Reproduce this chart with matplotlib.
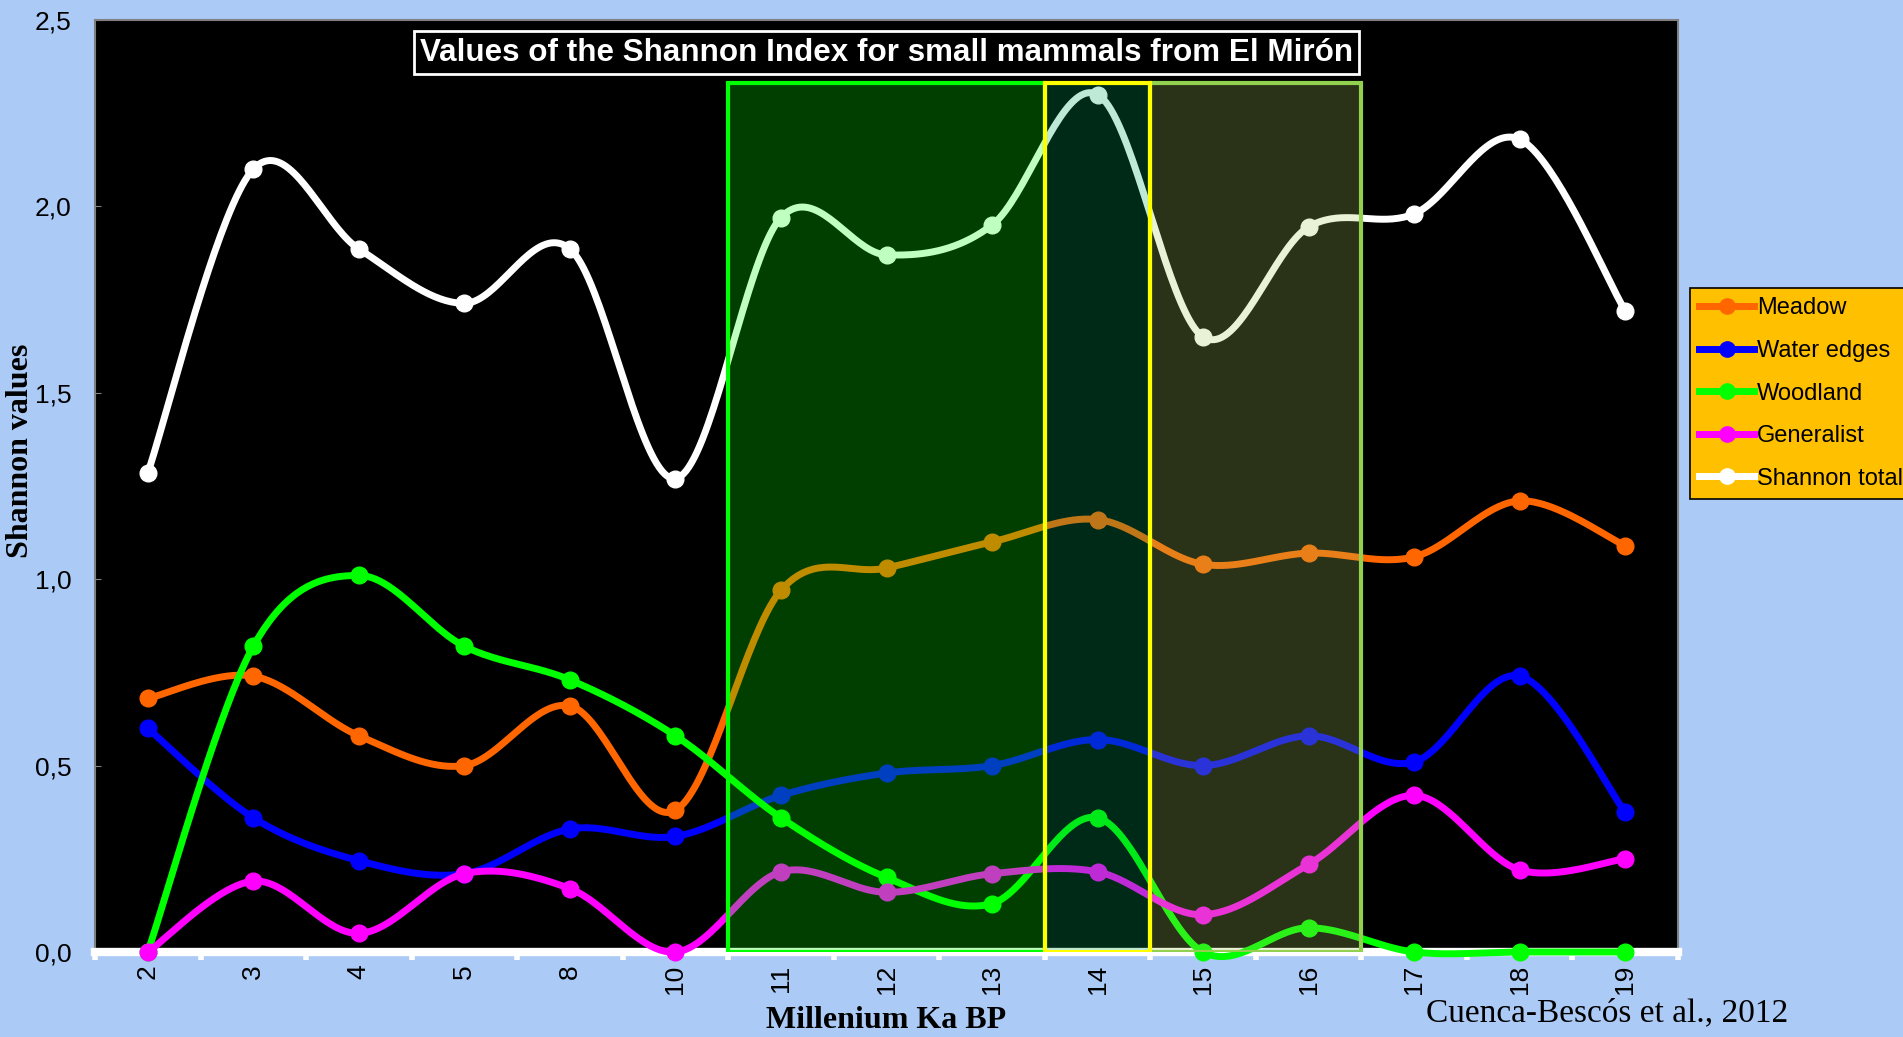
'''
Índice de Shannon para micromamíferos de El Mirón (Cuenca-Bescós et al., 2012).
Curvas suavizadas al estilo de Excel (Bezier tipo Catmull-Rom).
'''

import numpy as np
from matplotlib import pyplot as plt
from matplotlib.colors import to_rgba
from matplotlib.lines import Line2D
from matplotlib.patches import Rectangle

milenios = ['2', '3', '4', '5', '8', '10', '11', '12', '13', '14', '15', '16', '17', '18', '19']

meadow = [0.68, 0.74, 0.58, 0.50, 0.66, 0.38, 0.97, 1.03, 1.10, 1.16, 1.04, 1.07, 1.06, 1.21, 1.09]
water_edges = [0.60, 0.36, 0.245, 0.21, 0.33, 0.31, 0.42, 0.48, 0.50, 0.57, 0.50, 0.58, 0.51, 0.74, 0.375]
woodland = [0.0, 0.82, 1.01, 0.82, 0.73, 0.58, 0.36, 0.20, 0.13, 0.36, 0.0, 0.065, 0.0, 0.0, 0.0]
generalist = [0.0, 0.19, 0.05, 0.21, 0.17, 0.0, 0.215, 0.16, 0.21, 0.215, 0.10, 0.235, 0.42, 0.22, 0.25]
shannon_total = [1.285, 2.10, 1.886, 1.74, 1.886, 1.27, 1.97, 1.87, 1.95, 2.30, 1.65, 1.945, 1.98, 2.18, 1.72]

series = ['Meadow', 'Water edges', 'Woodland', 'Generalist', 'Shannon total']
colores = ['#ff6600', '#0000ff', '#00ff00', '#ff00ff', '#ffffff']

# zonas resaltadas: (primer milenio, último milenio, relleno, borde)
zonas = [('11', '13', '#00ff00', '#00ff00'),
         ('15', '16', '#a8cc60', '#92d050'),
         ('14', '14', '#00a860', '#ffff00')]
techo_zonas = 2.33

fondo = '#abcaf6'

def suavizar(x, y, n=40):
  '''
  Devuelve la curva suavizada que pasa por los puntos (x, y).
  '''
  pts = np.column_stack([x, y]).astype(float)
  P = np.vstack([pts[0], pts, pts[-1]])
  t = np.linspace(0, 1, n)[:, None]
  tramos = []
  for i in range(len(pts) - 1):
    p0, p1, p2, p3 = P[i], P[i+1], P[i+2], P[i+3]
    c1 = p1 + (p2 - p0) / 6
    c2 = p2 - (p3 - p1) / 6
    seg = (1-t)**3*p1 + 3*(1-t)**2*t*c1 + 3*(1-t)*t**2*c2 + t**3*p2
    tramos.append(seg if i == 0 else seg[1:])
  return np.vstack(tramos)

fig = plt.figure(figsize=(19.03, 10.37), dpi=100, facecolor=fondo)
ax = fig.add_axes([95/1903, 1 - 952/1037, 1583/1903, 932/1037])
ax.set_facecolor('black')

x = np.arange(len(milenios))
datos = [meadow, water_edges, woodland, generalist, shannon_total]
for k, (valores, color) in enumerate(zip(datos, colores)):
  curva = suavizar(x, valores)
  ax.plot(curva[:, 0], curva[:, 1], color=color, lw=5, solid_capstyle='round',
          zorder=3 + k, clip_on=False)
  ax.plot(x, valores, 'o', color=color, ms=12, zorder=3 + k, clip_on=False)

for ini, fin, relleno, borde in zonas:
  a = milenios.index(ini) - 0.5
  b = milenios.index(fin) + 0.5
  ax.add_patch(Rectangle((a, 0), b - a, techo_zonas, facecolor=to_rgba(relleno, 0.25),
                         edgecolor='none', zorder=10))
  ax.add_patch(Rectangle((a, 0), b - a, techo_zonas, facecolor='none',
                         edgecolor=borde, lw=3, zorder=12))

ax.set_xlim(-0.5, len(milenios) - 0.5)
ax.set_ylim(0, 2.5)

ax.set_xticks(x)
ax.set_xticklabels(milenios, rotation=90, fontsize=19, family='Liberation Sans')
ax.set_xticks(np.arange(len(milenios) + 1) - 0.5, minor=True)
ax.tick_params(axis='x', which='major', length=0, pad=9)
ax.tick_params(axis='x', which='minor', length=6, width=4, color='white', direction='out')

ax.set_yticks(np.arange(0, 2.51, 0.5))
ax.set_yticklabels([f'{v:.1f}'.replace('.', ',') for v in np.arange(0, 2.51, 0.5)],
                   fontsize=19, family='Liberation Sans')
ax.tick_params(axis='y', length=4, color='#808080', direction='in', pad=17)

for lado in ['left', 'top', 'right']:
  ax.spines[lado].set_color('#808080')
  ax.spines[lado].set_linewidth(1.5)
ax.spines['bottom'].set_color('white')
ax.spines['bottom'].set_linewidth(6)
ax.spines['bottom'].set_zorder(2.5)

ax.text(0.5, 0.965, 'Values of the Shannon Index for small mammals from El Mirón',
        transform=ax.transAxes, ha='center', va='center', color='white',
        fontsize=22.6, fontweight='bold', family='Liberation Sans', zorder=20,
        bbox=dict(boxstyle='square,pad=0.2', facecolor='black', edgecolor='white', lw=2))

fig.text(21/1903, 1 - 451/1037, 'Shannon values', rotation=90, ha='center', va='center',
         fontsize=23, fontweight='bold', family='Liberation Serif')
fig.text(886/1903, 1 - 1020/1037, 'Millenium Ka BP', ha='center', va='center',
         fontsize=23, fontweight='bold', family='Liberation Serif')
fig.text(1426/1903, 1 - 1013/1037, 'Cuenca-Bescós et al., 2012', ha='left', va='center',
         fontsize=24, family='Liberation Serif')

manijas = [Line2D([], [], color=c, lw=5, marker='o', ms=11) for c in colores]
leg = fig.legend(manijas, series, loc='upper left', bbox_to_anchor=(1690/1903, 1 - 288/1037),
                 bbox_transform=fig.transFigure, borderaxespad=0, frameon=True,
                 fancybox=False, facecolor='#ffc000', edgecolor='black', framealpha=1,
                 prop={'family': 'Liberation Sans', 'size': 17}, handlelength=2.3,
                 handletextpad=0.15, labelspacing=0.87, borderpad=0.4)
leg.get_frame().set_linewidth(1.2)

fig.savefig('out.png', dpi=100, facecolor=fondo)
